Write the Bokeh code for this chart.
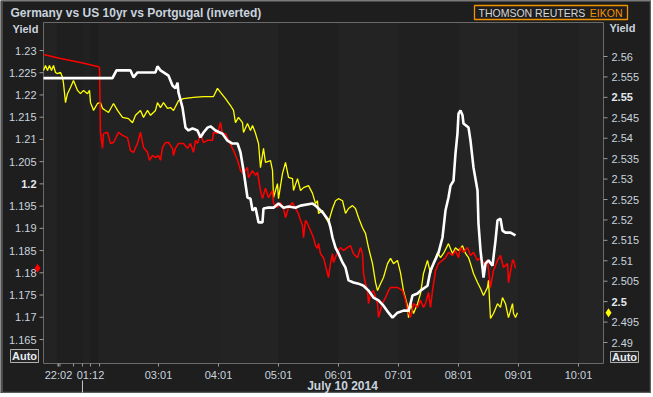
from bokeh.plotting import figure
from bokeh.models import Range1d
from bokeh.core.properties import value
from bokeh.embed import file_html
from bokeh.resources import INLINE

# ---------------- data ----------------
TITLE = "Germany vs US 10yr vs Portgugal (inverted)"
DATE_LABEL = "July 10 2014"
AXIS_NAME = "Yield"
AUTO = "Auto"
LOGO_A = "THOMSON REUTERS"
LOGO_B = "EIKON"
x_tick_pos = [1.333, 1.867, 3.0, 4.0, 5.0, 6.0, 7.0, 8.0, 9.0, 10.0]
x_tick_labels = ["22:02", "01:12", "03:01", "04:01", "05:01", "06:01", "07:01", "08:01", "09:01", "10:01"]
x_minor_pos = [1.325, 1.358, 1.583, 1.733, 2.017]
date_break = 1.733
left_ticks = [1.165, 1.17, 1.175, 1.18, 1.185, 1.19, 1.195, 1.2, 1.205, 1.21, 1.215, 1.22, 1.225, 1.23]
right_ticks = [2.49, 2.495, 2.5, 2.505, 2.51, 2.515, 2.52, 2.525, 2.53, 2.535, 2.54, 2.545, 2.55, 2.555, 2.56]
left_bold = [1.2]
right_bold = [2.5, 2.55]

# US 10yr (right axis)
us_t = [1.083, 2.233, 2.30, 2.533, 2.583, 2.65, 2.95, 2.983, 3.033, 3.167, 3.233, 3.283, 3.317, 3.333,
        3.40, 3.45, 3.50, 3.567, 3.65, 3.70, 3.75, 3.817, 3.867, 3.95, 4.067, 4.15, 4.233, 4.317, 4.367,
        4.417, 4.483, 4.533, 4.567, 4.617, 4.667, 4.733, 4.75, 4.817, 4.917, 5.0, 5.083, 5.167, 5.283,
        5.367, 5.567, 5.617, 5.667, 5.75, 5.833, 5.867, 5.9, 5.95, 6.0, 6.067, 6.117, 6.167, 6.25, 6.333,
        6.417, 6.5, 6.583, 6.667, 6.75, 6.833, 6.9, 6.983, 7.083, 7.167, 7.2, 7.233, 7.317, 7.367, 7.483,
        7.533, 7.583, 7.667, 7.733, 7.783, 7.833, 7.867, 7.917, 7.95, 7.983, 8.0, 8.033, 8.067, 8.083,
        8.167, 8.2, 8.25, 8.317, 8.333, 8.367, 8.4, 8.417, 8.45, 8.5, 8.567, 8.617, 8.65, 8.7, 8.733,
        8.783, 8.867, 8.95]
us_v = [2.5547, 2.5547, 2.5566, 2.5566, 2.5549, 2.5561, 2.5561, 2.5576, 2.5566, 2.5553, 2.5529, 2.5522, 2.5536, 2.5512,
        2.5475, 2.5426, 2.5419, 2.5424, 2.5419, 2.5402, 2.5414, 2.5426, 2.5429, 2.5419, 2.5411, 2.5394, 2.5387, 2.5387, 2.5365,
        2.5321, 2.5255, 2.5252, 2.5223, 2.5230, 2.5194, 2.5194, 2.5228, 2.5230, 2.5230, 2.5240, 2.5230, 2.5233, 2.5230,
        2.5235, 2.5240, 2.5235, 2.5228, 2.5216, 2.5199, 2.5181, 2.5157, 2.5132, 2.5118, 2.5096, 2.5083, 2.5052, 2.5047, 2.5044,
        2.5039, 2.5027, 2.5010, 2.5003, 2.4990, 2.4973, 2.4961, 2.4973, 2.4978, 2.4978, 2.4995, 2.5015, 2.5020, 2.5027, 2.5039,
        2.5076, 2.5093, 2.5120, 2.5157, 2.5223, 2.5255, 2.5284, 2.5296, 2.5363, 2.5412, 2.5460, 2.5468, 2.5456, 2.5436,
        2.5426, 2.5394, 2.5328, 2.5272, 2.5191, 2.5125, 2.5083, 2.5059, 2.5093, 2.5101, 2.5088, 2.5150, 2.5199, 2.5203, 2.5174,
        2.5169, 2.5169, 2.5162]

# Germany (left axis)
de_t = [1.083, 1.367, 1.70, 1.983, 2.017, 2.033, 2.067, 2.083, 2.15, 2.2, 2.25, 2.333, 2.4, 2.483, 2.533, 2.583,
        2.65, 2.7, 2.75, 2.817, 2.85, 2.9, 2.95, 3.0, 3.033, 3.067, 3.117, 3.167, 3.233, 3.25, 3.283, 3.333,
        3.417, 3.483, 3.533, 3.583, 3.617, 3.65, 3.7, 3.75, 3.817, 3.9, 3.917, 3.983, 4.033, 4.067, 4.117,
        4.167, 4.25, 4.317, 4.367, 4.417, 4.483, 4.5, 4.567, 4.617, 4.65, 4.7, 4.733, 4.783, 4.833, 4.9,
        4.917, 4.983, 5.033, 5.083, 5.117, 5.167, 5.233, 5.283, 5.333, 5.367, 5.4, 5.417, 5.45, 5.483,
        5.533, 5.583, 5.617, 5.65, 5.667, 5.70, 5.75, 5.817, 5.833, 5.867, 5.9, 5.917, 5.983, 6.033, 6.083,
        6.15, 6.2, 6.25, 6.317, 6.367, 6.4, 6.417, 6.45, 6.483, 6.5, 6.533, 6.583, 6.65, 6.667, 6.733,
        6.783, 6.833, 6.867, 6.983, 7.067, 7.117, 7.15, 7.2, 7.25, 7.317, 7.367, 7.417, 7.45, 7.5, 7.533,
        7.567, 7.617, 7.667, 7.733, 7.783, 7.833, 7.9, 7.95, 8.0, 8.033, 8.083, 8.15, 8.2, 8.25, 8.317,
        8.367, 8.417, 8.483, 8.533, 8.583, 8.65, 8.7, 8.75, 8.817, 8.833, 8.9, 8.917, 8.95]
de_v = [1.2291, 1.2282, 1.2273, 1.2264, 1.2262, 1.2116, 1.2080, 1.2113, 1.2116, 1.2091, 1.2093, 1.2116, 1.2109, 1.2104, 1.2075, 1.2071,
        1.2091, 1.2116, 1.2082, 1.2071, 1.2053, 1.2064, 1.2059, 1.2064, 1.2053, 1.2082, 1.2093, 1.2093, 1.2080, 1.2064, 1.2080, 1.2091,
        1.2091, 1.2080, 1.2091, 1.2071, 1.2098, 1.2091, 1.2113, 1.2093, 1.2098, 1.2098, 1.2116, 1.2113, 1.2138, 1.2113, 1.2113,
        1.2098, 1.2075, 1.2053, 1.2030, 1.2023, 1.2037, 1.2014, 1.2030, 1.2019, 1.2026, 1.1985, 1.1967, 1.1990, 1.1969, 1.1985,
        1.1956, 1.1947, 1.1958, 1.1945, 1.1924, 1.1947, 1.1958, 1.1945, 1.1933, 1.1918, 1.1906, 1.1879, 1.1918, 1.1911,
        1.1895, 1.1879, 1.1861, 1.1855, 1.1866, 1.1843, 1.1834, 1.1798, 1.1789, 1.1821, 1.1843, 1.1823, 1.1846, 1.1857, 1.1850,
        1.1857, 1.1861, 1.1843, 1.1834, 1.1857, 1.1843, 1.1798, 1.1776, 1.1760, 1.1731, 1.1753, 1.1760, 1.1731, 1.1700, 1.1731,
        1.1744, 1.1760, 1.1767, 1.1767, 1.1760, 1.1738, 1.1715, 1.1700, 1.1731, 1.1722, 1.1738, 1.1722, 1.1731, 1.1756, 1.1722,
        1.1760, 1.1805, 1.1821, 1.1828, 1.1834, 1.1846, 1.1839, 1.1850, 1.1834, 1.1857, 1.1846, 1.1857, 1.1839, 1.1846, 1.1828,
        1.1834, 1.1821, 1.1828, 1.1767, 1.1805, 1.1828, 1.1839, 1.1812, 1.1821, 1.1778, 1.1828, 1.1828, 1.1810]

# Portugal, inverted (drawn against the right-hand scale)
pt_t = [1.083, 1.117, 1.15, 1.183, 1.217, 1.25, 1.283, 1.317, 1.367, 1.40, 1.417, 1.45, 1.483, 1.533, 1.567,
        1.583, 1.617, 1.65, 1.70, 1.75, 1.817, 1.85, 1.867, 1.9, 1.917, 1.983, 2.033, 2.067, 2.117, 2.167,
        2.25, 2.317, 2.4, 2.5, 2.567, 2.617, 2.7, 2.75, 2.817, 2.867, 2.95, 2.983, 3.033, 3.083, 3.15, 3.2,
        3.25, 3.317, 3.333, 3.417, 3.583, 3.75, 3.917, 3.983, 4.033, 4.117, 4.2, 4.25, 4.283, 4.333, 4.4,
        4.417, 4.483, 4.533, 4.567, 4.617, 4.667, 4.7, 4.75, 4.783, 4.867, 4.9, 4.917, 4.983, 5.0, 5.067,
        5.117, 5.167, 5.233, 5.25, 5.317, 5.367, 5.417, 5.5, 5.567, 5.617, 5.65, 5.667, 5.733, 5.783, 5.833,
        5.9, 5.95, 6.0, 6.067, 6.117, 6.167, 6.233, 6.283, 6.333, 6.4, 6.45, 6.5, 6.567, 6.617, 6.65, 6.7,
        6.75, 6.817, 6.867, 6.917, 6.983, 7.033, 7.083, 7.15, 7.167, 7.2, 7.25, 7.317, 7.367, 7.417, 7.483,
        7.533, 7.583, 7.65, 7.7, 7.75, 7.833, 7.9, 7.95, 8.0, 8.067, 8.117, 8.167, 8.2, 8.25, 8.317, 8.367,
        8.417, 8.483, 8.5, 8.533, 8.583, 8.65, 8.7, 8.733, 8.783, 8.833, 8.9, 8.917, 8.95, 8.983]
pt_v = [2.5566, 2.5578, 2.5566, 2.5578, 2.5566, 2.5578, 2.5561, 2.5558, 2.5561, 2.5549, 2.5534, 2.5487, 2.5509, 2.5524, 2.5536,
        2.5541, 2.5529, 2.5517, 2.5509, 2.5517, 2.5509, 2.5517, 2.5487, 2.5475, 2.5468, 2.5485, 2.5487, 2.5473, 2.5468, 2.5463,
        2.5485, 2.5468, 2.5451, 2.5448, 2.5438, 2.5456, 2.5468, 2.5451, 2.5468, 2.5456, 2.5468, 2.5487, 2.5475, 2.5487, 2.5473, 2.5475,
        2.5468, 2.5487, 2.5492, 2.5497, 2.5500, 2.5502, 2.5502, 2.5522, 2.5512, 2.5497, 2.5480, 2.5468, 2.5438, 2.5451, 2.5438,
        2.5414, 2.5436, 2.5419, 2.5431, 2.5412, 2.5387, 2.5328, 2.5375, 2.5341, 2.5345, 2.5321, 2.5255, 2.5289, 2.5252, 2.5314,
        2.5341, 2.5304, 2.5301, 2.5272, 2.5301, 2.5272, 2.5279, 2.5284, 2.5265, 2.5240, 2.5247, 2.5216, 2.5223, 2.5206, 2.5194,
        2.5228, 2.5247, 2.5252, 2.5247, 2.5216, 2.5228, 2.5235, 2.5228, 2.5206, 2.5181, 2.5167, 2.5132, 2.5093, 2.5047, 2.5027, 2.5044,
        2.5059, 2.5093, 2.5106, 2.5093, 2.5101, 2.5071, 2.5027, 2.4990, 2.4961, 2.4995, 2.4971, 2.4995, 2.5020, 2.5069, 2.5101,
        2.5069, 2.5093, 2.5120, 2.5108, 2.5118, 2.5142, 2.5118, 2.5132, 2.5125, 2.5137, 2.5118, 2.5108, 2.5093, 2.5069, 2.5047, 2.5032,
        2.5015, 2.5035, 2.5052, 2.4959, 2.4971, 2.4995, 2.4986, 2.5010, 2.4995, 2.4961, 2.4995, 2.4971, 2.4961, 2.4973]

# background time bands (hours)
band_edges = [1.083, 1.317, 1.733, 1.867, 2.0, 4.0, 5.0, 6.0, 7.0, 8.0, 9.0, 10.0, 10.417]
band_colors = ["#232323", "#1f1f1f", "#212121", "#1e1e1e", "#222222", "#232323", "#1f1f1f",
               "#232323", "#202020", "#242424", "#212121", "#242424"]

# ---------------- layout (pixels of the 651x393 canvas) ----------------
W, H = 651, 393
PL, PR, PT, PB = 43, 603, 22, 363          # plot box
# scale: hours per pixel, left yield per pixel, right yield per pixel
X_AT0, X_PER_PX = 3.0 - 158 / 60.0, 1 / 60.0
YL_AT50, YL_PER_PX = 1.23, 0.065 / 289
YR_AT56, YR_PER_PX = 2.56, 0.07 / 286


def fx(px):
    return X_AT0 + px * X_PER_PX


def fyl(py):
    return YL_AT50 - (py - 50) * YL_PER_PX


def fyr(py):
    return YR_AT56 - (py - 56) * YR_PER_PX


FONT = "Liberation Sans"
TXT = "#c9d3de"
TICK = "#9a9a9a"
AXIS = "#6a6a6a"

p = figure(width=W, height=H, output_backend="svg", toolbar_location=None, title=None,
           x_axis_type=None, y_axis_type=None, min_border=0,
           x_range=Range1d(fx(0), fx(W)), y_range=Range1d(fyl(H), fyl(0)),
           background_fill_color="#1e1e1e", border_fill_color="#1e1e1e", outline_line_color=None)
p.extra_y_ranges = {"right": Range1d(fyr(H), fyr(0))}
p.grid.visible = False

# plot background bands
p.quad(left=band_edges[:-1], right=band_edges[1:], bottom=fyl(PB), top=fyl(PT),
       fill_color=band_colors, line_color=None)
# plot box
p.quad(left=[fx(PL)], right=[fx(PR)], bottom=[fyl(PB)], top=[fyl(PT)],
       fill_color=None, line_color=AXIS, line_width=1)
# outer window edge
p.quad(left=[fx(1.5)], right=[fx(W - 1)], bottom=[fyl(H - 1)], top=[fyl(0.5)],
       fill_color=None, line_color="#5c5c5c", line_width=1.5)

# ---- left axis ----
def fmt(v):
    return ("%.3f" % v).rstrip("0").rstrip(".")


p.segment(x0=[fx(PL - 4)] * len(left_ticks), x1=[fx(PL)] * len(left_ticks), y0=left_ticks, y1=left_ticks,
          line_color=TICK, line_width=1)
ln = [t for t in left_ticks if t not in left_bold]
p.text(x=[fx(PL - 7)] * len(ln), y=ln, text=[fmt(t) for t in ln], text_align="right",
       text_baseline="middle", text_font=value(FONT), text_font_size="11px", text_color=TXT)
p.text(x=[fx(PL - 7)] * len(left_bold), y=left_bold, text=[fmt(t) for t in left_bold], text_align="right",
       text_baseline="middle", text_font=value(FONT), text_font_size="11px", text_color="#e4eaf0",
       text_font_style="bold")

# ---- right axis ----
p.segment(x0=[fx(PR)] * len(right_ticks), x1=[fx(PR + 4)] * len(right_ticks), y0=right_ticks, y1=right_ticks,
          line_color=TICK, line_width=1, y_range_name="right")
rn = [t for t in right_ticks if t not in right_bold]
p.text(x=[fx(PR + 8)] * len(rn), y=rn, text=[fmt(t) for t in rn], text_align="left", y_range_name="right",
       text_baseline="middle", text_font=value(FONT), text_font_size="11px", text_color=TXT)
p.text(x=[fx(PR + 8)] * len(right_bold), y=right_bold, text=[fmt(t) for t in right_bold], text_align="left",
       y_range_name="right", text_baseline="middle", text_font=value(FONT), text_font_size="11px",
       text_color="#e4eaf0", text_font_style="bold")

# ---- time axis ----
p.segment(x0=x_tick_pos, x1=x_tick_pos, y0=[fyl(PB)] * len(x_tick_pos), y1=[fyl(PB + 3)] * len(x_tick_pos),
          line_color=TICK, line_width=1)
p.segment(x0=x_minor_pos, x1=x_minor_pos, y0=[fyl(PB)] * len(x_minor_pos), y1=[fyl(PB + 3)] * len(x_minor_pos),
          line_color=TICK, line_width=1)
p.text(x=x_tick_pos, y=[fyl(374)] * len(x_tick_pos), text=x_tick_labels, text_align="center",
       text_baseline="middle", text_font=value(FONT), text_font_size="11px", text_color=TXT)
p.segment(x0=[date_break], x1=[date_break], y0=[fyl(380)], y1=[fyl(392)], line_color="#c8c8c8", line_width=1)
p.text(x=[fx(342)], y=[fyl(385)], text=[DATE_LABEL], text_align="center", text_baseline="middle",
       text_font=value(FONT), text_font_size="12px", text_font_style="bold", text_color=TXT)

# ---- series ----
p.line(pt_t, pt_v, y_range_name="right", line_color="#ffff00", line_width=1.3)
p.line(de_t, de_v, line_color="#ff0000", line_width=1.5)
p.line(us_t, us_v, y_range_name="right", line_color="#ffffff", line_width=2.6)

# last-value markers on the axes
p.scatter(x=[fx(PL - 6)], y=[de_v[-1]], marker="diamond", size=9, fill_color="#ff0000", line_color=None)
p.scatter(x=[fx(PR + 5)], y=[pt_v[-1]], marker="diamond", size=9, fill_color="#ffff00", line_color=None,
          y_range_name="right")

# ---- captions ----
p.text(x=[fx(10)], y=[fyl(12)], text=[TITLE], text_align="left", text_baseline="middle",
       text_font=value(FONT), text_font_size="12px", text_font_style="bold", text_color=TXT)
p.text(x=[fx(12), fx(609)], y=[fyl(28), fyl(27)], text=[AXIS_NAME, AXIS_NAME], text_align="left",
       text_baseline="middle", text_font=value(FONT), text_font_size="11px", text_font_style="bold",
       text_color=TXT)

# Auto boxes
p.quad(left=[fx(10), fx(610)], right=[fx(38), fx(638)], bottom=[fyl(362), fyl(362)], top=[fyl(349), fyl(351)],
       fill_color="#262626", line_color="#b0b0b0", line_width=1)
p.text(x=[fx(24), fx(624)], y=[fyl(355.5), fyl(356.5)], text=[AUTO, AUTO], text_align="center",
       text_baseline="middle", text_font=value(FONT), text_font_size="11px", text_font_style="bold",
       text_color="#e6ecf2")

# logo
p.quad(left=[fx(474)], right=[fx(627)], bottom=[fyl(19)], top=[fyl(5)],
       fill_color=None, line_color="#f39200", line_width=1.3)
p.text(x=[fx(478)], y=[fyl(12)], text=[LOGO_A], text_align="left", text_baseline="middle",
       text_font=value(FONT), text_font_size="10.5px", text_color="#d6d6d6")
p.text(x=[fx(622)], y=[fyl(12)], text=[LOGO_B], text_align="right", text_baseline="middle",
       text_font=value(FONT), text_font_size="10.5px", text_color="#f39200")

open("out.html", "w").write(file_html(p, INLINE))
